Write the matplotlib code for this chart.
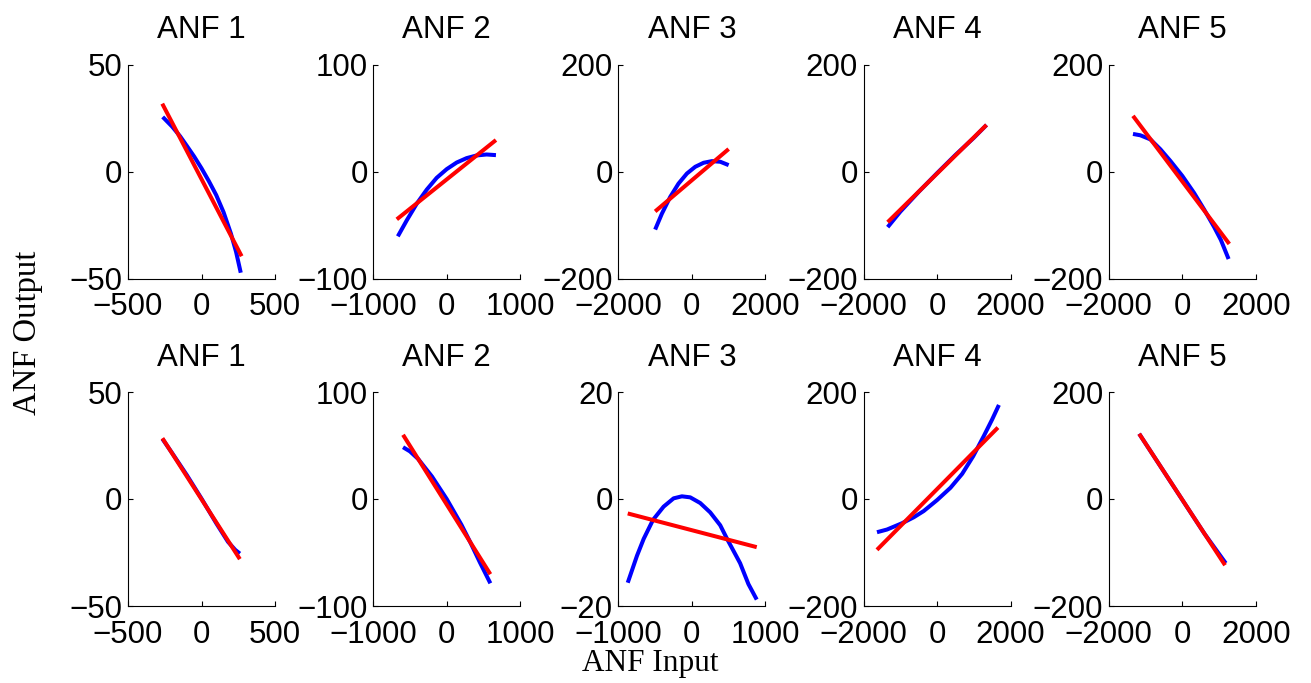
import numpy as np
import matplotlib
matplotlib.use("Agg")
import matplotlib.pyplot as plt

plt.rcParams['font.family'] = ['Liberation Sans', 'DejaVu Sans']

titles = ["ANF 1", "ANF 2", "ANF 3", "ANF 4", "ANF 5"]

# axis half-ranges, top and bottom row
xlim_top = [500, 1000, 2000, 2000, 2000]
ylim_top = [50, 100, 200, 200, 200]
xlim_bot = [500, 1000, 1000, 2000, 2000]
ylim_bot = [50, 100, 20, 200, 200]

# ---- top row: blue = nonlinear response, red = linear fit
top1_x = [-264, -200, -146, -100, -50, 0, 50, 100, 150, 200, 235, 267]
top1_y = [25.5, 21, 16.5, 12, 7, 1.5, -4.5, -11, -19, -29, -37.5, -47.3]
top1_fit_x = [-267, 273]
top1_fit_y = [31.7, -39.6]

top2_x = [-665, -543, -407, -271, -136, 0, 136, 271, 407, 543, 670]
top2_y = [-60.6, -45.6, -30, -16.9, -5.9, 2.2, 8.4, 12.5, 15, 15.9, 15.3]
top2_fit_x = [-679, 670]
top2_fit_y = [-44.7, 29.4]

top3_x = [-1000, -818, -591, -364, -136, 91, 318, 545, 773, 1000]
top3_y = [-108.5, -79, -47.6, -22.6, -3.8, 8.8, 16.3, 19.4, 18.2, 11.9]
top3_fit_x = [-1000, 1000]
top3_fit_y = [-74.6, 42]

top4_x = [-1345, -1000, -500, 0, 500, 1000, 1345]
top4_y = [-104, -75, -38, -3, 31, 63, 87]
top4_fit_x = [-1345, 1345]
top4_fit_y = [-94.7, 87.1]

top5_x = [-1342, -1142, -868, -594, -320, 0, 320, 594, 868, 1050, 1260]
top5_y = [70.2, 67.7, 60, 41.4, 19.4, -8.2, -40, -71, -104, -128, -163.6]
top5_fit_x = [-1342, 1279]
top5_fit_y = [104, -135.4]

# ---- bottom row
bot1_x = [-266, -200, -100, 0, 100, 180, 230, 261]
bot1_y = [28.1, 21.5, 11.2, 0.2, -11.3, -20, -23.8, -25.5]
bot1_fit_x = [-266, 261]
bot1_fit_y = [28.4, -28.1]

bot2_x = [-594, -500, -388, -200, 0, 200, 320, 450, 594]
bot2_y = [48.4, 44.5, 37.4, 21, 0, -24, -40.3, -59, -78.8]
bot2_fit_x = [-594, 594]
bot2_fit_y = [60, -70.3]

bot3_x = [-873, -747, -656, -529, -385, -249, -136, -23, 113, 249, 385, 484, 656, 769, 882]
bot3_y = [-15.65, -10.6, -7.45, -3.9, -1.43, 0.12, 0.5, 0.31, -0.75, -2.5, -4.9, -7.6, -12.0, -15.9, -18.8]
bot3_fit_x = [-873, 882]
bot3_fit_y = [-2.7, -9.0]

bot4_x = [-1636, -1364, -955, -636, -364, 0, 364, 682, 982, 1273, 1500, 1682]
bot4_y = [-62.1, -57.1, -45.3, -34.2, -22.5, -2, 21, 47, 80, 118, 149, 175.8]
bot4_fit_x = [-1636, 1655]
bot4_fit_y = [-95, 133.5]

bot5_x = [-1173, -600, 0, 600, 1182]
bot5_y = [121.9, 61.6, -1.5, -64.5, -120]
bot5_fit_x = [-1173, 1164]
bot5_fit_y = [121.9, -123.75]

top_curves = [(top1_x, top1_y), (top2_x, top2_y), (top3_x, top3_y), (top4_x, top4_y), (top5_x, top5_y)]
top_fits = [(top1_fit_x, top1_fit_y), (top2_fit_x, top2_fit_y), (top3_fit_x, top3_fit_y),
            (top4_fit_x, top4_fit_y), (top5_fit_x, top5_fit_y)]
bot_curves = [(bot1_x, bot1_y), (bot2_x, bot2_y), (bot3_x, bot3_y), (bot4_x, bot4_y), (bot5_x, bot5_y)]
bot_fits = [(bot1_fit_x, bot1_fit_y), (bot2_fit_x, bot2_fit_y), (bot3_fit_x, bot3_fit_y),
            (bot4_fit_x, bot4_fit_y), (bot5_fit_x, bot5_fit_y)]

W, H = 1311, 683
fig = plt.figure(figsize=(W / 100, H / 100), dpi=100)

ax_w = 147 / W
ax_h = 214 / H
row_bottoms = [1 - 278.5 / H, 1 - 606 / H]


def draw_panel(ax, curve, fit, xl, yl, title):
    ax.plot(curve[0], curve[1], color='#0000ff', lw=2.9, solid_capstyle='butt', solid_joinstyle='round')
    ax.plot(fit[0], fit[1], color='#ff0000', lw=2.9, solid_capstyle='butt')
    ax.set_xlim(-xl, xl)
    ax.set_ylim(-yl, yl)
    ax.set_xticks([-xl, 0, xl])
    ax.set_yticks([-yl, 0, yl])
    ax.spines['top'].set_visible(False)
    ax.spines['right'].set_visible(False)
    ax.spines['left'].set_linewidth(0.8)
    ax.spines['bottom'].set_linewidth(0.8)
    ax.tick_params(axis='both', direction='in', length=3.5, width=0.8, labelsize=22.5)
    ax.tick_params(axis='x', pad=10)
    ax.tick_params(axis='y', pad=4)
    ax.set_title(title, fontsize=22.5, pad=19)


for row, (curves, fits, xls, yls) in enumerate([(top_curves, top_fits, xlim_top, ylim_top),
                                                  (bot_curves, bot_fits, xlim_bot, ylim_bot)]):
    for i in range(5):
        left = (128 + 245.2 * i) / W
        ax = fig.add_axes([left, row_bottoms[row], ax_w, ax_h])
        draw_panel(ax, curves[i], fits[i], xls[i], yls[i], titles[i])

fig.text(28 / W, 1 - 333 / H, "ANF Output", rotation=90, ha='center', va='center',
         family=['Liberation Serif', 'DejaVu Serif'], fontsize=23.5)
fig.text(650 / W, 1 - 664 / H, "ANF Input", ha='center', va='center',
         family=['Liberation Serif', 'DejaVu Serif'], fontsize=22.5)

fig.savefig("out.png", dpi=100)
